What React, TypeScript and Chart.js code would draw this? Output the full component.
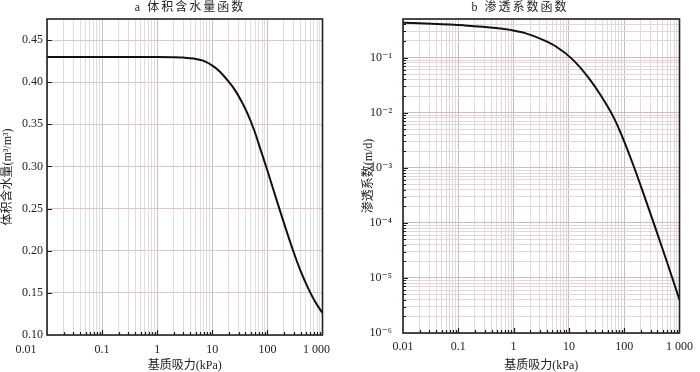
import React, { useEffect, useRef } from 'react';
import { Chart, registerables } from 'chart.js';
Chart.register(...registerables);

const FONT = "'Liberation Serif', 'DejaVu Serif', 'Noto Sans CJK SC', serif";

// ---------- text ----------
const titleA = 'a 体积含水量函数';
const titleB = 'b 渗透系数函数';
const xTitle = '基质吸力(kPa)';
const yTitleA = '体积含水量(m³/m³)';
const yTitleB = '渗透系数(m/d)';

// ---------- data ----------
const suctionA = [0.01, 0.1, 1, 2, 3, 4.6, 6.8, 10.2, 13.3, 20, 26, 34, 44, 58, 75.5, 100, 148, 288, 398, 562, 750, 1000];
const thetaA = [0.430, 0.430, 0.4299, 0.4296, 0.4292, 0.4281, 0.4256, 0.4194, 0.4134, 0.4004, 0.3903, 0.3771, 0.3622, 0.3424, 0.3196, 0.2952, 0.2595, 0.2015, 0.1765, 0.1542, 0.1385, 0.1262];

const suctionB = [0.01, 0.0335, 0.126, 0.48, 0.93, 1.57, 3.49, 5.93, 11.5, 22.4, 38.1, 64.7, 84.5, 143.5, 229, 365, 620, 1000];
const conductB = [0.4276, 0.410, 0.3835, 0.3446, 0.3139, 0.2798, 0.2067, 0.1570, 0.0934, 0.04345, 0.02016, 0.00811, 0.004505, 0.001167, 3.15e-4, 8.18e-5, 1.716e-5, 3.98e-6];

// ---------- ticks ----------
const xDecades = [0.01, 0.1, 1, 10, 100, 1000];
const xLabelsA = ['0.01\u2002\u2002\u2002\u2002\u2002\u2002\u2002', '0.1', '1', '10', '100', '1 000\u2002\u2002'];
const xLabelsB = ['0.01', '0.1', '1', '10', '100', '1 000'];
const yTicksA = [0.10, 0.15, 0.20, 0.25, 0.30, 0.35, 0.40, 0.45];
const yDecadesB = [1e-6, 1e-5, 1e-4, 1e-3, 1e-2, 1e-1];
const yLabelsB = ['10⁻⁶', '10⁻⁵', '10⁻⁴', '10⁻³', '10⁻²', '10⁻¹'];
const yTopB = 0.5;

const logTicks = (decades: number[], top: number) => {
  const out: number[] = [];
  decades.forEach((d) => {
    for (let k = 1; k <= 9; k++) {
      const v = k * d;
      if (v <= top * 1.0000001) out.push(v);
    }
  });
  return out;
};
const isDecade = (v: number) => Math.abs(Math.log10(v) - Math.round(Math.log10(v))) < 1e-6;
const labelFor = (v: number, decades: number[], labels: string[]) => {
  const i = decades.findIndex((d) => Math.abs(d - v) / d < 1e-6);
  return i >= 0 ? labels[i] : '';
};

const framePlugin = {
  id: 'frame',
  afterDraw(chart: any, _args: any, opts: any) {
    const { ctx, chartArea: a } = chart;
    const xs = chart.scales.x;
    const ys = chart.scales.y;
    ctx.save();
    ctx.strokeStyle = '#1a1a1a';
    ctx.lineWidth = 1.2;
    ctx.beginPath();
    xs.ticks.forEach((t: any) => {
      const px = Math.round(xs.getPixelForValue(t.value)) + 0.5;
      if (px <= a.left + 1 || px >= a.right - 1) return;
      const len = isDecade(t.value) ? opts.xMajor : opts.xMinor;
      ctx.moveTo(px, a.bottom);
      ctx.lineTo(px, a.bottom - len);
    });
    ys.ticks.forEach((t: any) => {
      const py = Math.round(ys.getPixelForValue(t.value)) + 0.5;
      if (py <= a.top + 1 || py >= a.bottom - 1) return;
      const len = opts.yLog ? (isDecade(t.value) ? opts.yMajor : opts.yMinor) : opts.yMajor;
      ctx.moveTo(a.left, py);
      ctx.lineTo(a.left + len, py);
    });
    ctx.stroke();
    ctx.lineWidth = 1.6;
    ctx.strokeStyle = '#222';
    ctx.strokeRect(a.left, a.top, a.right - a.left, a.bottom - a.top);
    ctx.font = `12px ${FONT}`;
    ctx.fillStyle = '#222';
    ctx.textAlign = 'center';
    ctx.textBaseline = 'middle';
    (ctx as any).letterSpacing = '2px';
    ctx.fillText(opts.title, opts.titleX, opts.titleY);
    ctx.restore();
  },
};

const tickFont = { family: FONT, size: 12 };
const titleFont = { family: FONT, size: 12 };
const TXT = '#222';

function makeA(canvas: HTMLCanvasElement) {
  return new Chart(canvas, {
    type: 'line',
    data: {
      datasets: [
        {
          data: suctionA.map((x, i) => ({ x, y: thetaA[i] })),
          borderColor: '#111',
          borderWidth: 2,
          pointRadius: 0,
          cubicInterpolationMode: 'monotone',
        },
      ],
    },
    options: {
      animation: false,
      responsive: false,
      layout: { padding: { top: 19, right: 15, left: 0, bottom: 0 } },
      plugins: {
        legend: { display: false },
        tooltip: { enabled: false },
        frame: { title: titleA, titleX: 190, titleY: 8, xMajor: 5, xMinor: 3, yMajor: 5, yMinor: 0, yLog: false },
      } as any,
      scales: {
        x: {
          type: 'logarithmic',
          min: 0.01,
          max: 1000,
          afterBuildTicks: (s: any) => {
            s.ticks = logTicks(xDecades.slice(0, -1), 1000).concat([1000]).map((v) => ({ value: v }));
          },
          afterFit: (s: any) => { s.height = 37; },
          ticks: {
            autoSkip: false,
            maxRotation: 0,
            padding: 8,
            font: tickFont,
            color: TXT,
            callback: (v: any) => labelFor(Number(v), xDecades, xLabelsA),
          },
          grid: {
            drawTicks: false,
            color: (c: any) => (c.tick && isDecade(c.tick.value) ? 'rgb(200,192,192)' : 'rgb(226,220,220)'),
          },
          border: { display: false },
          title: { display: true, text: xTitle, font: titleFont, color: TXT, padding: { top: 0, bottom: -1 } },
        },
        y: {
          type: 'linear',
          min: 0.1,
          max: 0.475,
          afterBuildTicks: (s: any) => { s.ticks = yTicksA.map((v) => ({ value: v })); },
          afterFit: (s: any) => { s.width = 47; },
          ticks: {
            padding: 4,
            font: tickFont,
            color: TXT,
            callback: (v: any) => Number(v).toFixed(2),
          },
          grid: { drawTicks: false, color: 'rgb(218,200,200)' },
          border: { display: false },
          title: { display: true, text: yTitleA, font: titleFont, color: TXT, padding: { top: 1, bottom: 0 } },
        },
      },
    } as any,
    plugins: [framePlugin as any],
  });
}

function makeB(canvas: HTMLCanvasElement) {
  return new Chart(canvas, {
    type: 'line',
    data: {
      datasets: [
        {
          data: suctionB.map((x, i) => ({ x, y: conductB[i] })),
          borderColor: '#111',
          borderWidth: 2,
          pointRadius: 0,
          cubicInterpolationMode: 'monotone',
        },
      ],
    },
    options: {
      animation: false,
      responsive: false,
      layout: { padding: { top: 19, right: 8, left: 0, bottom: 0 } },
      plugins: {
        legend: { display: false },
        tooltip: { enabled: false },
        frame: { title: titleB, titleX: 170, titleY: 8, xMajor: 5, xMinor: 3, yMajor: 5, yMinor: 3, yLog: true },
      } as any,
      scales: {
        x: {
          type: 'logarithmic',
          min: 0.01,
          max: 1000,
          afterBuildTicks: (s: any) => {
            s.ticks = logTicks(xDecades.slice(0, -1), 1000).concat([1000]).map((v) => ({ value: v }));
          },
          afterFit: (s: any) => { s.height = 39; },
          ticks: {
            autoSkip: false,
            maxRotation: 0,
            padding: 7,
            font: tickFont,
            color: TXT,
            callback: (v: any) => labelFor(Number(v), xDecades, xLabelsB),
          },
          grid: {
            drawTicks: false,
            color: (c: any) => (c.tick && isDecade(c.tick.value) ? 'rgb(200,190,190)' : 'rgb(226,218,218)'),
          },
          border: { display: false },
          title: { display: true, text: xTitle, font: titleFont, color: TXT, padding: { top: 0, bottom: -1 } },
        },
        y: {
          type: 'logarithmic',
          min: 1e-6,
          max: yTopB,
          afterBuildTicks: (s: any) => { s.ticks = logTicks(yDecadesB, yTopB).map((v) => ({ value: v })); },
          afterFit: (s: any) => { s.width = 53; },
          ticks: {
            autoSkip: false,
            padding: 11,
            font: tickFont,
            color: TXT,
            callback: (v: any) => labelFor(Number(v), yDecadesB, yLabelsB),
          },
          grid: {
            drawTicks: false,
            color: (c: any) => (c.tick && isDecade(c.tick.value) ? 'rgb(205,188,188)' : 'rgb(226,214,214)'),
          },
          border: { display: false },
          title: { display: true, text: yTitleB, font: titleFont, color: TXT, padding: { top: 12, bottom: 0 } },
        },
      },
    } as any,
    plugins: [framePlugin as any],
  });
}

export default function App() {
  const refA = useRef<HTMLCanvasElement>(null);
  const refB = useRef<HTMLCanvasElement>(null);
  useEffect(() => {
    const a = makeA(refA.current!);
    const b = makeB(refB.current!);
    return () => {
      a.destroy();
      b.destroy();
    };
  }, []);
  return (
    <div style={{ position: 'fixed', left: 0, top: 0, width: 700, height: 372, background: '#fff' }}>
      <canvas ref={refA} width={350} height={372} style={{ position: 'absolute', left: 0, top: 0, width: 350, height: 372 }} />
      <canvas ref={refB} width={350} height={372} style={{ position: 'absolute', left: 350, top: 0, width: 350, height: 372 }} />
    </div>
  );
}
